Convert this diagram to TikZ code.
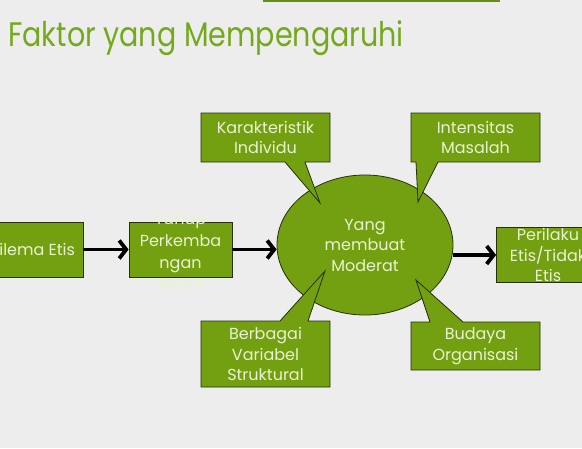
\documentclass[tikz,border=0pt]{standalone}
\usepackage{fontspec}
\setmainfont{Poppins}
\usetikzlibrary{arrows.meta,calc,shapes.geometric}
\definecolor{bggray}{HTML}{EDEDED}
\definecolor{boxgreen}{HTML}{73A010}
\definecolor{boxline}{HTML}{26300A}
\definecolor{boxtext}{HTML}{EAF2D4}
\definecolor{titlegreen}{HTML}{74A91C}
\tikzset{
  boxshape/.style={fill=boxgreen, draw=boxline, line width=0.8pt},
  boxlabel/.style={text=boxtext, align=center, inner sep=0pt, font=\fontsize{16}{20.5}\selectfont},
  flowbox/.style={boxshape, minimum width=103pt, minimum height=55pt, inner sep=0pt},
  flowarrow/.style={line width=3.8pt, -{Straight Barb[length=7pt,width=18pt,line width=3.8pt]}},
}
\begin{document}
\begin{tikzpicture}[x=1pt,y=-1pt]
\fill[bggray] (0,0) rectangle (582,448);
\clip (0,0) rectangle (582,448);
\useasboundingbox (0,0) rectangle (582,448);
% top rule and title
\coordinate (ruleL) at (263,0.8);
\coordinate (ruleR) at (500,0.8);
\draw[titlegreen!85!black, line width=1.8pt] (ruleL) -- (ruleR);
\node[anchor=base west, inner sep=0pt, text=titlegreen, font=\fontsize{34}{40}\selectfont] (title) at (8,46) {\scalebox{0.84}[1]{Faktor yang Mempengaruhi}};
% flow boxes
\node[flowbox] (dil) at (31.5,249.5) {};
\node[boxlabel] (dilt) at (dil.center) {Dilema Etis};
\node[flowbox] (tahap) at (180.5,249.5) {};
\node[boxlabel, font=\fontsize{16}{22}\selectfont] (tahapt) at ($(tahap.center)+(0,2)$) {Tahap\\Perkemba\\ngan\\Moral};
\node[flowbox] (peri) at (548,255) {};
\node[boxlabel] (perit) at (peri.center) {Perilaku\\Etis/Tidak\\Etis};
% central ellipse
\node[boxshape, boxlabel, ellipse, minimum width=176pt, minimum height=140pt] (mod) at (365,245) {Yang\\membuat\\Moderat};
% callouts
\coordinate (k1) at (201,113); \coordinate (k2) at (330,162);
\coordinate (ktip) at (320,203);
\draw[boxshape] (k1) -- (k2 |- k1) -- (k2) -- (305,162) -- (ktip) -- (285,162) -- (k1 |- k2) -- cycle;
\node[boxlabel] (kar) at ($(k1)!0.5!(k2)$) {Karakteristik\\Individu};
\coordinate (i1) at (411,113); \coordinate (i2) at (540,162);
\coordinate (itip) at (418,202);
\draw[boxshape] (i1) -- (i2 |- i1) -- (i2) -- (438,162) -- (itip) -- (416,162) -- (i1 |- i2) -- cycle;
\node[boxlabel] (int) at ($(i1)!0.5!(i2)$) {Intensitas\\Masalah};
\coordinate (b1) at (201,321); \coordinate (b2) at (330,387);
\coordinate (btip) at (325,271);
\draw[boxshape] (b1) -- (280,321) -- (btip) -- (308,321) -- (b2 |- b1) -- (b2) -- (b1 |- b2) -- cycle;
\node[boxlabel] (ber) at ($(b1)!0.5!(b2)$) {Berbagai\\Variabel\\Struktural};
\coordinate (u1) at (411,322); \coordinate (u2) at (540,370);
\coordinate (utip) at (416,280);
\draw[boxshape] (u1) -- (430,322) -- (utip) -- (463,322) -- (u2 |- u1) -- (u2) -- (u1 |- u2) -- cycle;
\node[boxlabel] (bud) at ($(u1)!0.5!(u2)$) {Budaya\\Organisasi};
% arrows
\draw[flowarrow] (dil.east) -- (tahap.west);
\draw[flowarrow] (tahap.east) -- (tahap.east -| mod.west);
\draw[flowarrow] (mod.east |- peri.west) -- (peri.west);
\end{tikzpicture}
\end{document}
